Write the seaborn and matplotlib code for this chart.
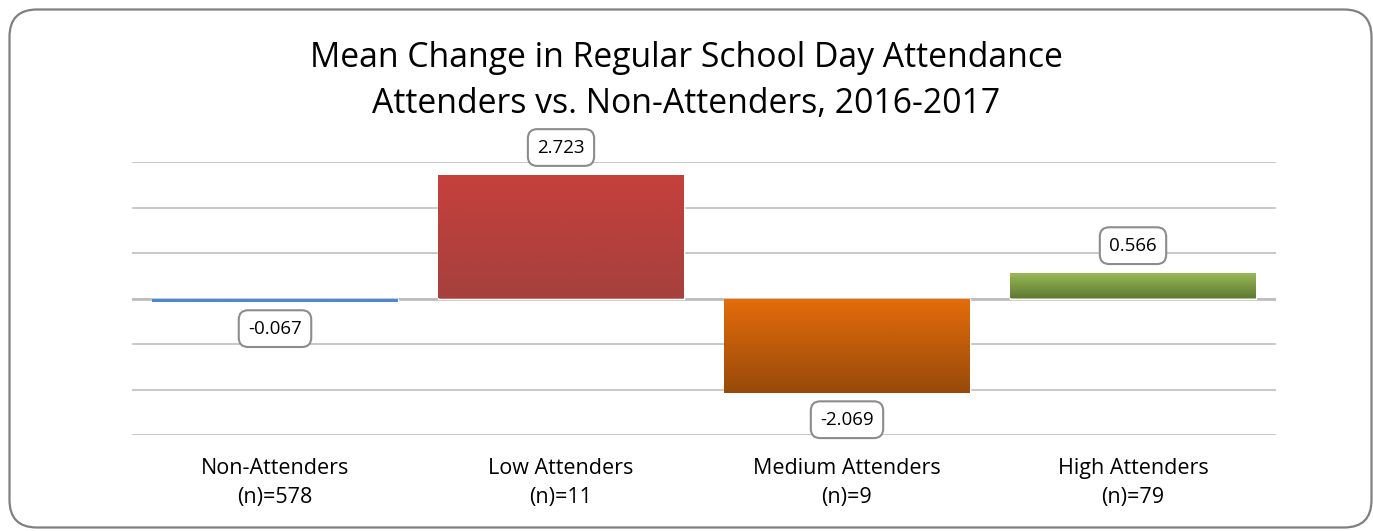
import numpy as np
import pandas as pd
import matplotlib
matplotlib.use("Agg")
import matplotlib.pyplot as plt
import seaborn as sns
from matplotlib.patches import FancyBboxPatch
from matplotlib.colors import to_rgb

# dados
groups = ["Non-Attenders", "Low Attenders", "Medium Attenders", "High Attenders"]
n_sizes = [578, 11, 9, 79]
mean_change = [-0.067, 2.723, -2.069, 0.566]
top_colors = ["#4A8AD4", "#C5403D", "#E46C0A", "#9BBB59"]
bottom_colors = ["#4A8AD4", "#A6403C", "#984A0A", "#5E7B33"]

sns.set_style("white")
plt.rcParams["font.family"] = ["Open Sans", "DejaVu Sans"]
plt.rcParams["text.color"] = "black"
plt.rcParams["xtick.color"] = "black"

df = pd.DataFrame({"group": groups, "change": mean_change})

fig = plt.figure(figsize=(13.73, 5.31), dpi=100)
ax = fig.add_axes([132 / 1373, 96 / 531, 1144 / 1373, 273 / 531])

sns.barplot(data=df, x="group", y="change", hue="group", palette=top_colors,
            width=0.86, legend=False, ax=ax, zorder=3)

# gradiente vertical em cada barra
for patch, c_top, c_bot in zip(ax.patches, top_colors, bottom_colors):
    x0, y0 = patch.get_x(), patch.get_y()
    w, h = patch.get_width(), patch.get_height()
    grad = np.linspace(0, 1, 100)[:, None, None]
    img = (1 - grad) * np.array(to_rgb(c_top)) + grad * np.array(to_rgb(c_bot))
    ylo, yhi = min(y0, y0 + h), max(y0, y0 + h)
    im = ax.imshow(img, extent=(x0, x0 + w, ylo, yhi), origin="upper",
                   aspect="auto", zorder=3.5)
    im.set_clip_path(patch)

ax.set_xlim(-0.5, 3.5)
ax.set_ylim(-3, 3)
ax.set_yticks(np.arange(-3, 4, 1))
ax.set_yticklabels([])
ax.grid(axis="y", color="#C4C4C4", lw=1.3, zorder=1)
ax.axhline(0, color="#BDBDBD", lw=2.0, zorder=2)
for s in ax.spines.values():
    s.set_visible(False)
ax.tick_params(axis="both", length=0)
ax.set_xlabel("")
ax.set_ylabel("")
ax.set_xticks(range(len(groups)))
ax.set_xticklabels([f"{g}\n(n)={n}" for g, n in zip(groups, n_sizes)],
                   fontsize=15.5, linespacing=1.5)
ax.tick_params(axis="x", pad=16.5)

# rótulos de dados
for i, v in enumerate(mean_change):
    off = 19.5 if v >= 0 else -19.5
    ax.annotate(f"{v:.3f}", xy=(i, v), xytext=(0, off),
                textcoords="offset points", ha="center", va="center",
                fontsize=13.5, zorder=5,
                bbox=dict(boxstyle="round,pad=0.5,rounding_size=0.5",
                          fc="white", ec="#8C8C8C", lw=1.5))

fig.text(0.5, 1 - 81 / 531,
         "Mean Change in Regular School Day Attendance\nAttenders vs. Non-Attenders, 2016-2017",
         ha="center", va="center", fontsize=24.3, linespacing=1.45)

# moldura arredondada
frame = FancyBboxPatch((9.5 / 1373, 3.5 / 531), 1362 / 1373, 518 / 531,
                       boxstyle="round,pad=0,rounding_size=0.02",
                       transform=fig.transFigure, fc="none", ec="#808080",
                       lw=1.6, mutation_aspect=1373 / 531)
fig.patches.append(frame)

plt.savefig("out.png", dpi=100)
plt.close()
